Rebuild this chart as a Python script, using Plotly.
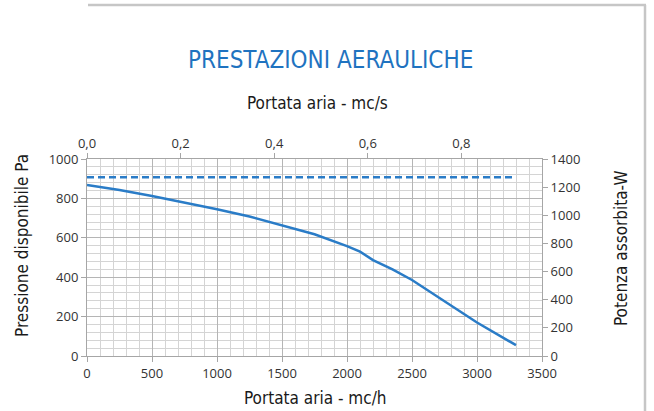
import plotly.graph_objects as go

# Data
flow_mch = [0, 250, 500, 750, 1000, 1250, 1500, 1750, 2000, 2100, 2200, 2350, 2500, 2750, 3000, 3300]
pressure_pa = [868, 843, 812, 780, 745, 708, 665, 618, 558, 530, 487, 440, 386, 280, 170, 55]
power_flow = [0, 3300]
power_w = [1270, 1270]
x_ticks_mch = [0, 500, 1000, 1500, 2000, 2500, 3000, 3500]
top_ticks_mcs = [0.0, 0.2, 0.4, 0.6, 0.8]

BLUE = "#2a7cc7"
TXT = "#333333"
COND = "DejaVu Sans Condensed, Liberation Sans Narrow, sans-serif"
TICKF = "Open Sans, Liberation Sans, sans-serif"

W, H = 654, 411
l, r, t, b = 87, 112, 159, 55
pw, ph = W - l - r, H - t - b


def px(xp):
    return (xp - l) / pw


def py(yp):
    return 1 - (yp - t) / ph


fig = go.Figure()
fig.add_trace(go.Scatter(x=flow_mch, y=pressure_pa, mode="lines",
                         line=dict(color=BLUE, width=2.5), xaxis="x", yaxis="y",
                         showlegend=False))
fig.add_trace(go.Scatter(x=power_flow, y=power_w, mode="lines",
                         line=dict(color=BLUE, width=2.5, dash="7px,4px"), xaxis="x", yaxis="y2",
                         showlegend=False))
# invisible trace for top axis (mc/s)
fig.add_trace(go.Scatter(x=[f / 3600 for f in flow_mch], y=pressure_pa, mode="lines",
                         line=dict(width=0), opacity=0, xaxis="x2", yaxis="y",
                         showlegend=False, hoverinfo="skip"))

axis_common = dict(linecolor="#a6a6a6", linewidth=1, ticks="outside", ticklen=5,
                   tickcolor="#a6a6a6", tickfont=dict(family=TICKF, size=13, color=TXT),
                   zeroline=False, fixedrange=True)


def ann(text, x, y, size, color="#1a1a1a", angle=0):
    return dict(text=text, x=px(x), y=py(y), xref="paper", yref="paper", showarrow=False,
                xanchor="center", yanchor="middle", textangle=angle,
                font=dict(family=COND, size=size, color=color))


fig.update_layout(
    width=W, height=H,
    margin=dict(l=l, r=r, t=t, b=b),
    paper_bgcolor="white", plot_bgcolor="white",
    separators=",.",
    xaxis=dict(range=[0, 3500], tickvals=x_ticks_mch, showgrid=True, gridcolor="#b5b5b5", gridwidth=1,
               minor=dict(dtick=100, showgrid=True, gridcolor="#d4d4d4", gridwidth=1, ticks=""),
               **axis_common),
    xaxis2=dict(range=[0, 3500 / 3600], tickvals=top_ticks_mcs, tickformat=".1f", overlaying="x",
                side="top", showgrid=False, anchor="y", **axis_common),
    yaxis=dict(range=[0, 1000], dtick=200, showgrid=True, gridcolor="#b5b5b5", gridwidth=1,
               minor=dict(dtick=40, showgrid=True, gridcolor="#d4d4d4", gridwidth=1, ticks=""),
               **axis_common),
    yaxis2=dict(range=[0, 1400], dtick=200, overlaying="y", side="right", showgrid=False,
                **axis_common),
    annotations=[
        ann("PRESTAZIONI AERAULICHE", 330, 60, 24, "#1f73c0"),
        ann("Portata aria - mc/s", 317, 103, 17),
        ann("Portata aria - mc/h", 315, 398, 17),
        ann("Pressione disponibile Pa", 22, 246, 17, angle=-90),
        ann("Potenza assorbita-W", 621, 248, 17, angle=-90),
    ],
)

# outer light-gray frame (top and right)
fig.add_shape(type="line", xref="paper", yref="paper", x0=px(88), x1=px(646), y0=py(5), y1=py(5),
              line=dict(color="#c6c6c6", width=2.5))
fig.add_shape(type="line", xref="paper", yref="paper", x0=px(645), x1=px(645), y0=py(5), y1=py(411),
              line=dict(color="#c6c6c6", width=2.5))

fig.write_html("out.html", config={"displayModeBar": False},
               post_script="document.body.style.margin='0';")
